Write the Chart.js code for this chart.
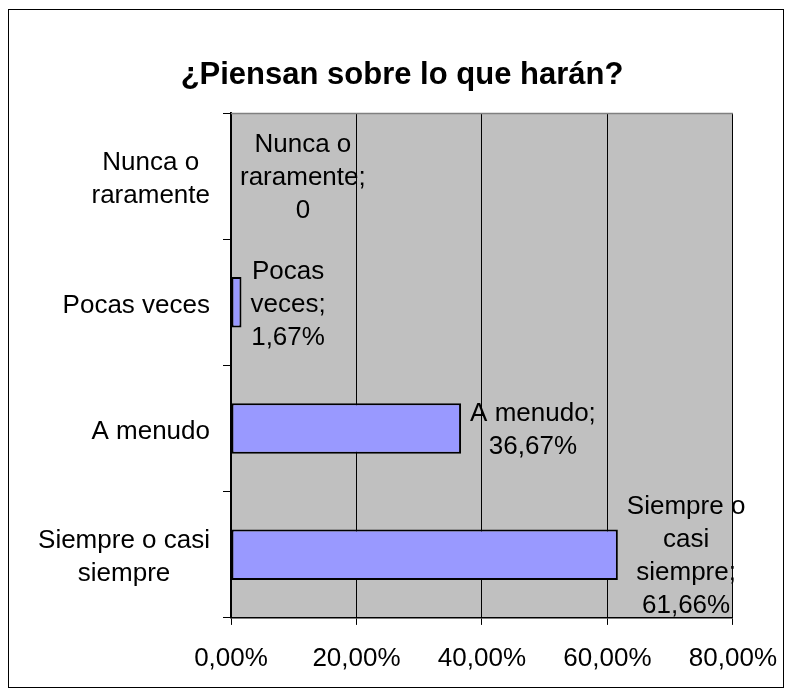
<!DOCTYPE html>
<html>
<head>
<meta charset="utf-8">
<script src="https://cdn.jsdelivr.net/npm/chart.js@4/dist/chart.umd.min.js"></script>
<style>
  html, body { margin: 0; padding: 0; background: #fff; }
  #wrap { width: 793px; height: 695px; position: relative; }
</style>
</head>
<body>
<div id="wrap"><canvas id="c" width="793" height="695"></canvas></div>
<script>
// ---- data ----
const titleText = "¿Piensan sobre lo que harán?";
const categories = ["Nunca o raramente", "Pocas veces", "A menudo", "Siempre o casi siempre"];
const categoryLines = [["Nunca o", "raramente"], ["Pocas veces"], ["A menudo"], ["Siempre o casi", "siempre"]];
const dataLabelNames = [["Nunca o", "raramente;"], ["Pocas", "veces;"], ["A menudo;"], ["Siempre o", "casi", "siempre;"]];
const values = [0, 1.67, 36.67, 61.66];
const xTicks = [0, 20, 40, 60, 80];

const FONT = "'Liberation Sans', Arial, sans-serif";
const fmtPct = v => v.toFixed(2).replace('.', ',') + '%';
const fmtVal = v => v === 0 ? '0' : fmtPct(v);

const decorPlugin = {
  id: 'decor',
  beforeDraw(chart) {
    const { ctx, chartArea: a } = chart;
    ctx.save();
    ctx.fillStyle = '#C0C0C0';
    ctx.fillRect(a.left, a.top, a.right - a.left, a.bottom - a.top);
    ctx.restore();
  },
  afterDraw(chart) {
    const { ctx, chartArea: a, scales } = chart;
    ctx.save();
    // top border of plot area
    ctx.strokeStyle = '#808080';
    ctx.lineWidth = 1.5;
    ctx.beginPath();
    ctx.moveTo(a.left, a.top + 0.5);
    ctx.lineTo(a.right, a.top + 0.5);
    ctx.stroke();
    // outer frame
    ctx.strokeStyle = '#000';
    ctx.lineWidth = 1;
    ctx.strokeRect(8.5, 9.5, 775, 678);
    // title
    ctx.fillStyle = '#000';
    ctx.font = "bold 31px " + FONT;
    ctx.textAlign = 'center';
    ctx.textBaseline = 'alphabetic';
    ctx.fillText(titleText, 402, 84);
    // category labels
    ctx.font = "26px " + FONT;
    ctx.textBaseline = 'middle';
    const lh = 33;
    const y = scales.y;
    categoryLines.forEach((lines, i) => {
      const cy = y.getPixelForValue(i) + 3;
      const maxW = Math.max(...lines.map(s => ctx.measureText(s).width));
      const cx = 210 - maxW / 2;
      const y0 = cy - (lines.length - 1) * lh / 2;
      lines.forEach((s, j) => ctx.fillText(s, cx, y0 + j * lh));
    });
    // data labels
    const meta = chart.getDatasetMeta(0);
    meta.data.forEach((el, i) => {
      const lines = dataLabelNames[i].concat([fmtVal(values[i])]);
      const maxW = Math.max(...lines.map(s => ctx.measureText(s).width));
      const cx = el.x + 9 + maxW / 2;
      const y0 = el.y + 2 - (lines.length - 1) * lh / 2;
      lines.forEach((s, j) => ctx.fillText(s, cx, y0 + j * lh));
    });
    ctx.restore();
  }
};

new Chart(document.getElementById('c'), {
  type: 'bar',
  data: {
    labels: categories,
    datasets: [{
      data: values,
      backgroundColor: '#9999FF',
      borderColor: '#000',
      borderWidth: 2,
      borderSkipped: false,
      categoryPercentage: 1,
      barPercentage: 0.4
    }]
  },
  options: {
    indexAxis: 'y',
    responsive: false,
    animation: false,
    devicePixelRatio: 1,
    layout: { padding: { left: 223, right: 60, top: 113, bottom: 3 } },
    plugins: { legend: { display: false }, title: { display: false }, tooltip: { enabled: false } },
    scales: {
      x: {
        type: 'linear',
        min: xTicks[0],
        max: xTicks[xTicks.length - 1],
        afterBuildTicks: s => { s.ticks = xTicks.map(v => ({ value: v })); },
        ticks: {
          callback: v => fmtPct(v),
          color: '#000',
          font: { family: FONT, size: 26, lineHeight: 1.35 },
          padding: 16,
          maxRotation: 0
        },
        grid: { color: '#000', lineWidth: 1, drawTicks: true, tickLength: 7, tickColor: '#000' },
        border: { display: true, color: '#000', width: 1.5 }
      },
      y: {
        ticks: { display: false },
        grid: { drawOnChartArea: false, drawTicks: true, tickLength: 8, color: '#000', offset: true },
        border: { display: true, color: '#000', width: 2 }
      }
    }
  },
  plugins: [decorPlugin]
});
</script>
</body>
</html>
